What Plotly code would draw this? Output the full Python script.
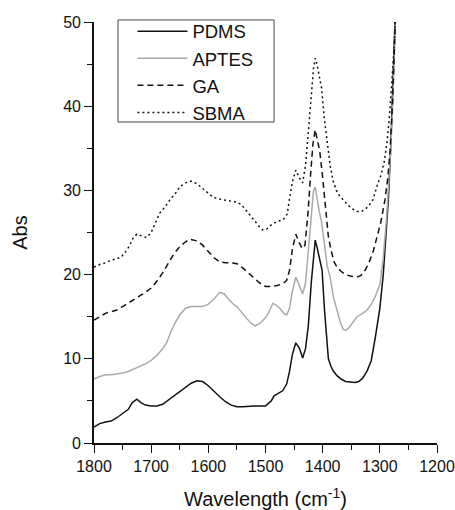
import plotly.graph_objects as go

pdms_x = [1800,1790,1780,1770,1760,1750,1740,1733,1725,1718,1710,1700,1690,1680,1670,1660,1650,1640,1630,1620,1610,1600,1590,1580,1570,1560,1550,1540,1520,1500,1495,1490,1485,1478,1470,1463,1458,1453,1447,1441,1435,1430,1425,1420,1416,1413,1409,1405,1401,1397,1393,1390,1386,1382,1375,1368,1360,1350,1343,1337,1330,1322,1315,1308,1300,1294,1289,1285,1281,1278,1275,1272]
pdms_y = [1.9,2.3,2.5,2.6,3.0,3.5,4.0,4.8,5.2,4.8,4.5,4.4,4.4,4.6,5.1,5.6,6.0,6.5,7.1,7.4,7.3,6.8,6.1,5.5,4.9,4.5,4.3,4.3,4.4,4.4,4.7,5.0,5.6,5.9,6.2,7.0,8.5,10.5,11.9,11.3,10.1,11.2,14,19,22.5,24.1,23,21.8,20.5,16,11.9,10.0,9.2,8.6,8.0,7.6,7.3,7.2,7.2,7.3,7.7,8.6,9.8,12.5,16,20,25,29,35,41,48,53]

aptes_x = [1800,1790,1780,1770,1760,1750,1740,1730,1720,1710,1700,1690,1680,1673,1665,1658,1650,1640,1630,1620,1610,1600,1590,1580,1572,1565,1555,1550,1540,1533,1525,1518,1510,1501,1495,1487,1480,1475,1468,1463,1458,1453,1447,1441,1435,1430,1425,1420,1416,1413,1410,1406,1402,1397,1392,1387,1381,1375,1369,1364,1360,1355,1348,1340,1330,1322,1315,1308,1300,1294,1288,1284,1280,1277,1274,1272]
aptes_y = [7.6,7.9,8.1,8.1,8.2,8.3,8.5,8.8,9.1,9.4,9.8,10.4,11.2,11.9,13.3,14.3,15.2,16.0,16.2,16.2,16.2,16.5,17.1,17.9,17.7,17.1,16.4,16.2,15.3,14.8,14.2,13.9,14.2,14.8,15.4,16.6,16.3,16.0,15.4,15.2,16.0,18.0,19.7,18.6,17.7,19,23,27.5,30.0,30.4,29.0,27.5,26.3,23.5,21,19.7,17.3,15.8,14.3,13.5,13.4,13.6,14.2,15.0,15.4,15.8,16.5,17.4,18.8,22,27,31,36,41,48,52]

ga_x = [1800,1790,1780,1770,1760,1750,1740,1730,1720,1710,1700,1690,1680,1670,1660,1650,1640,1632,1620,1610,1600,1590,1580,1570,1560,1550,1540,1530,1520,1510,1500,1490,1480,1470,1463,1458,1453,1447,1441,1436,1431,1426,1421,1417,1413,1409,1405,1400,1395,1390,1385,1380,1375,1368,1360,1350,1340,1333,1325,1318,1311,1304,1298,1291,1286,1282,1278,1275,1272]
ga_y = [14.6,15.0,15.4,15.6,15.8,16.2,16.6,17.0,17.4,17.9,18.4,19.2,20.2,21.4,22.5,23.3,23.9,24.2,24.0,23.5,22.8,22.0,21.5,21.4,21.4,21.3,20.8,20.2,19.6,19.0,18.6,18.6,18.7,18.9,19.3,20.5,23.0,24.8,23.8,23.1,23.5,27,32,35.5,37.2,35.8,34.6,31.5,27.5,24.5,22.8,21.5,20.9,20.4,20.0,19.8,19.7,19.9,20.6,21.6,22.9,24.6,26.3,28.9,31.5,34.8,40,46,52]

sbma_x = [1800,1790,1780,1770,1760,1752,1745,1738,1732,1725,1717,1708,1700,1692,1685,1676,1667,1658,1650,1640,1630,1620,1610,1600,1592,1583,1574,1562,1550,1542,1535,1527,1520,1512,1505,1498,1490,1480,1469,1462,1458,1453,1447,1441,1435,1430,1425,1420,1416,1413,1410,1406,1402,1397,1392,1387,1382,1376,1370,1362,1355,1348,1340,1332,1325,1318,1312,1305,1298,1292,1287,1283,1279,1275,1272]
sbma_y = [20.9,21.2,21.4,21.7,21.9,22.1,22.7,23.4,24.3,24.8,24.6,24.4,25.0,26.2,27.3,28.0,28.9,29.6,30.4,30.9,31.1,30.8,30.2,29.6,29.2,29.0,28.9,28.7,28.6,28.3,27.7,27.0,26.4,25.8,25.3,25.4,25.9,26.3,26.5,27.2,29.0,31.0,32.4,31.5,30.9,33,37,41.5,44.5,45.7,45.0,43.6,42.2,38.5,35.5,33,31.2,30.0,29.3,28.7,28.2,27.8,27.5,27.5,27.8,28.3,28.9,30.5,31.8,33.5,36,39,42.5,47,52]

x_ticks = [1800, 1700, 1600, 1500, 1400, 1300, 1200]

series = [
    ("PDMS", pdms_x, pdms_y, "#111111", "solid"),
    ("APTES", aptes_x, aptes_y, "#aaaaaa", "solid"),
    ("GA", ga_x, ga_y, "#111111", "6px,4px"),
    ("SBMA", sbma_x, sbma_y, "#111111", "2px,3px"),
]

FONT = "Arial, Liberation Sans, sans-serif"
fig = go.Figure()
for name, xs, ys, col, dash in series:
    fig.add_trace(go.Scatter(x=xs, y=ys, mode="lines", name=name,
                             line=dict(color=col, width=1.5, dash=dash)))

# legend frame (layout decoration)
fig.add_shape(type="rect", xref="paper", yref="paper",
              x0=0.070, x1=0.525, y0=0.7625, y1=1.0048,
              line=dict(color="#444444", width=1), fillcolor="white", layer="above")

fig.update_layout(
    template="none",
    width=455, height=510,
    margin=dict(l=94, r=18, t=22, b=67, autoexpand=False),
    paper_bgcolor="white", plot_bgcolor="white",
    font=dict(family=FONT, color="#111111"),
    showlegend=True,
    legend=dict(x=0.112, y=1.022, xanchor="left", yanchor="top",
                borderwidth=0, bgcolor="rgba(0,0,0,0)",
                font=dict(size=18.5, family=FONT), tracegroupgap=0,
                itemwidth=50),
)
axis_common = dict(showline=True, linecolor="#111111", linewidth=1.6,
                   ticks="outside", ticklen=8, tickwidth=1.4, tickcolor="#111111",
                   showgrid=False, zeroline=False, automargin=False,
                   tickfont=dict(size=16, family=FONT, color="#111111"), mirror=False)
fig.update_xaxes(range=[1800, 1200], tickvals=x_ticks,
                 minor=dict(dtick=50, ticks="outside", ticklen=5, tickwidth=1.4, tickcolor="#111111"),
                 title=dict(text="Wavelength (cm<sup>-1</sup>)", font=dict(size=20, family=FONT), standoff=23),
                 **axis_common)
fig.update_yaxes(range=[0, 50], dtick=10,
                 minor=dict(dtick=5, ticks="outside", ticklen=5, tickwidth=1.4, tickcolor="#111111"),
                 title=dict(text="Abs", font=dict(size=20, family=FONT), standoff=30),
                 **axis_common)

fig.write_html("out.html")
